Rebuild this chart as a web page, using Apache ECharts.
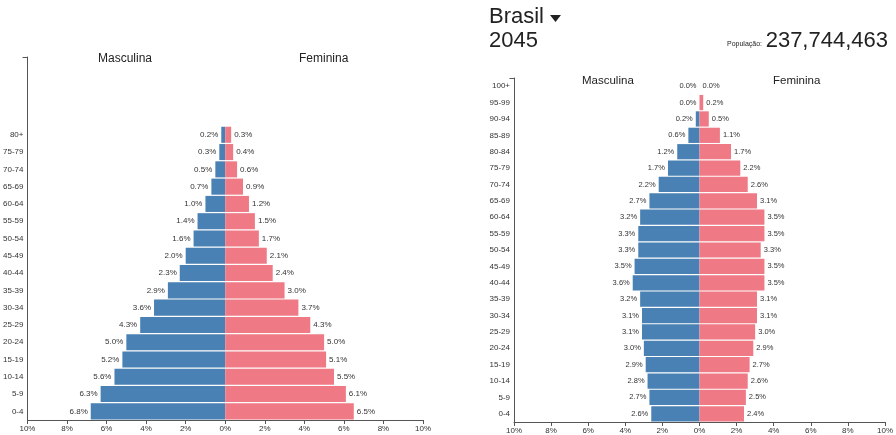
<!DOCTYPE html>
<html>
<head>
<meta charset="utf-8">
<script src="https://cdn.jsdelivr.net/npm/echarts@6/dist/echarts.min.js"></script>
<style>
  html, body { margin: 0; padding: 0; background: #fff; }
  #chart { width: 896px; height: 435px; }
</style>
</head>
<body>
<div id="chart"></div>
<script>
// Age groups, youngest first (bottom of the pyramid)
const ageGroups = ['0-4', '5-9', '10-14', '15-19', '20-24', '25-29', '30-34', '35-39', '40-44',
  '45-49', '50-54', '55-59', '60-64', '65-69', '70-74', '75-79', '80-84', '85-89', '90-94', '95-99', '100+'];
const ageGroupsPast = ['0-4', '5-9', '10-14', '15-19', '20-24', '25-29', '30-34', '35-39', '40-44',
  '45-49', '50-54', '55-59', '60-64', '65-69', '70-74', '75-79', '80+', '', '', '', ''];

// Share of population (%) — earlier pyramid
const malePast = [6.8, 6.3, 5.6, 5.2, 5.0, 4.3, 3.6, 2.9, 2.3, 2.0, 1.6, 1.4, 1.0, 0.7, 0.5, 0.3, 0.2];
const femalePast = [6.5, 6.1, 5.5, 5.1, 5.0, 4.3, 3.7, 3.0, 2.4, 2.1, 1.7, 1.5, 1.2, 0.9, 0.6, 0.4, 0.3];

// Share of population (%) — Brasil 2045
const male2045 = [2.6, 2.7, 2.8, 2.9, 3.0, 3.1, 3.1, 3.2, 3.6, 3.5, 3.3, 3.3, 3.2, 2.7, 2.2, 1.7, 1.2, 0.6, 0.2, 0.0, 0.0];
const female2045 = [2.4, 2.5, 2.6, 2.7, 2.9, 3.0, 3.1, 3.1, 3.5, 3.5, 3.3, 3.5, 3.5, 3.1, 2.6, 2.2, 1.7, 1.1, 0.5, 0.2, 0.0];

const xTicks = [-10, -8, -6, -4, -2, 0, 2, 4, 6, 8, 10];

const BLUE = '#4a81b4';
const PINK = '#ef7985';
const FONT = '"Liberation Sans", Arial, sans-serif';
const TXT = '#333';

const chart = echarts.init(document.getElementById('chart'), null, { renderer: 'canvas' });

function pct(v) { return Math.abs(v).toFixed(1) + '%'; }

function xAxis(gridIndex) {
  return {
    type: 'value', gridIndex,
    min: xTicks[0], max: xTicks[xTicks.length - 1], interval: 2,
    splitLine: { show: false },
    axisLine: { show: true, onZero: false, lineStyle: { color: '#555', width: 1 } },
    axisTick: { show: true, length: 4, lineStyle: { color: '#555' } },
    axisLabel: { formatter: v => Math.abs(v) + '%', fontSize: 8, color: TXT, fontFamily: FONT, margin: 5 }
  };
}

function yAxis(gridIndex, cats) {
  return {
    type: 'category', gridIndex, data: cats,
    axisLine: { show: true, onZero: false, lineStyle: { color: '#555', width: 1 } },
    axisTick: { show: false },
    axisLabel: { fontSize: 8, color: TXT, fontFamily: FONT, margin: 4 }
  };
}

function bars(idx, stack, values, color, side, labelSize) {
  return {
    type: 'bar', xAxisIndex: idx, yAxisIndex: idx, stack,
    data: side === 'left' ? values.map(v => -v) : values,
    barCategoryGap: '7%',
    itemStyle: { color },
    silent: true,
    label: {
      show: true, position: side, distance: 3,
      formatter: p => pct(p.value),
      fontSize: labelSize, color: TXT, fontFamily: FONT
    }
  };
}

// short outer tick at the top end of each category axis
function topTick(x, y) {
  return { type: 'line', shape: { x1: x - 5, y1: y, x2: x, y2: y }, style: { stroke: '#555', lineWidth: 1 } };
}

chart.setOption({
  animation: false,
  grid: [
    { left: 27, right: 473, top: 57, bottom: 15 },
    { left: 514, right: 8, top: 78, bottom: 13 }
  ],
  xAxis: [xAxis(0), xAxis(1)],
  yAxis: [yAxis(0, ageGroupsPast), yAxis(1, ageGroups)],
  series: [
    bars(0, 'a', malePast, BLUE, 'left', 8),
    bars(0, 'a', femalePast, PINK, 'right', 8),
    bars(1, 'b', male2045, BLUE, 'left', 7.5),
    bars(1, 'b', female2045, PINK, 'right', 7.5)
  ],
  graphic: [
    topTick(27.5, 57.5),
    topTick(514.5, 78.5),
    { type: 'text', left: 98, top: 53, style: { text: 'Masculina', font: '12px ' + FONT, fill: '#222' } },
    { type: 'text', left: 299, top: 53, style: { text: 'Feminina', font: '12px ' + FONT, fill: '#222' } },
    { type: 'text', left: 582, top: 75, style: { text: 'Masculina', font: '11.5px ' + FONT, fill: '#222' } },
    { type: 'text', left: 773, top: 75, style: { text: 'Feminina', font: '11.5px ' + FONT, fill: '#222' } },
    { type: 'text', left: 489, top: 6, style: { text: 'Brasil', font: '22px ' + FONT, fill: '#222' } },
    { type: 'polygon', shape: { points: [[550, 15], [561, 15], [555.5, 22]] }, style: { fill: '#222' } },
    { type: 'text', left: 489, top: 30, style: { text: '2045', font: '22px ' + FONT, fill: '#222' } },
    { type: 'text', left: 727, top: 41, style: { text: 'População:', font: '7px ' + FONT, fill: '#222' } },
    { type: 'text', right: 8, top: 30, style: { text: '237,744,463', font: '22px ' + FONT, fill: '#222' } }
  ]
});
</script>
</body>
</html>
